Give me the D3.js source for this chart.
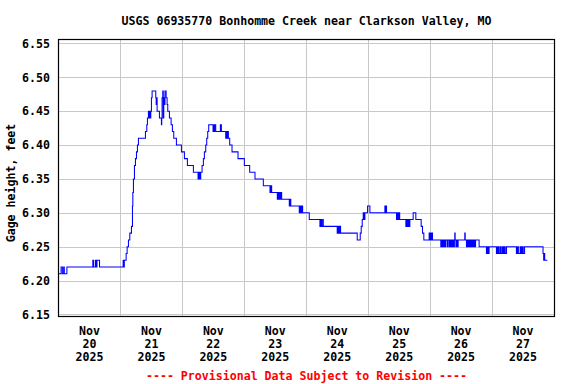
<!DOCTYPE html>
<html>
<head>
<meta charset="utf-8">
<script src="https://cdn.jsdelivr.net/npm/d3@7"></script>
<style>
  html, body { margin: 0; padding: 0; background: #fff; }
  text { font-family: "DejaVu Sans Mono", "Liberation Mono", monospace; font-weight: bold; font-size: 11.6px; }
</style>
</head>
<body>
<svg id="chart" width="576" height="384"></svg>
<script>
// ---- data (hours since 2025-11-20 00:00, gage height in feet) ----
const title = "USGS 06935770 Bonhomme Creek near Clarkson Valley, MO";
const yLabel = "Gage height, feet";
const footer = "---- Provisional Data Subject to Revision ----";
const yTicks = [6.15, 6.20, 6.25, 6.30, 6.35, 6.40, 6.45, 6.50, 6.55];
const dayLabels = ["20", "21", "22", "23", "24", "25", "26", "27"];
const hours = [
  0, 1.0, 1.5, 2.0, 2.25, 3.25,
  13.3, 13.6, 14.3, 14.6, 14.9, 15.9,
  25.05, 25.3, 25.5, 26.21, 26.59, 27.11, 27.63, 28.27, 28.66, 28.8, 29.04, 29.43, 29.82, 30.21, 30.59, 30.98,
  33.69, 34.21, 34.46, 34.85, 35.1, 35.3, 35.5, 35.76, 36.01, 36.27, 37.69, 37.85, 38.0, 38.21, 39.11, 39.88, 40.0,
  40.14, 40.40, 40.6, 40.79, 41.05, 41.25, 41.7, 42.08, 42.34, 42.98, 43.63, 44.14, 44.66, 45.69, 47.63, 48.79,
  49.95, 52.27, 54.08, 54.3, 54.5, 54.7, 54.9, 55.11, 55.63, 56.14, 56.53, 57.05, 57.43, 57.82, 58.21,
  59.88, 60.1, 60.3, 60.5, 60.92, 62.72, 63.11, 64.79, 65.0, 65.3, 65.5, 65.82, 66.34, 67.24, 69.56, 72.01, 74.08,
  76.14, 79.37, 81.95, 82.34, 82.6, 84.79, 85.1, 85.4, 85.7, 86.0, 86.2, 86.47, 89.43, 89.7, 90.0, 90.34,
  93.30, 93.6, 93.9, 94.2, 94.6, 97.17, 101.3, 101.6, 101.9, 102.34, 102.6, 108.0, 108.3, 108.6, 108.9, 109.3,
  115.75, 116.92, 117.3, 117.69, 118.08, 118.34, 118.72, 119.76, 120.66, 126.47, 126.7, 126.9, 127.11,
  130.98, 131.3, 131.6, 131.9, 132.2, 132.53, 134.6, 134.9, 135.2, 135.5, 135.8, 136.14, 137.43, 138.46,
  140.53, 141.05, 141.56, 143.63, 143.9, 144.2, 144.5, 144.7, 144.92,
  148.14, 148.4, 148.6, 148.9, 149.1, 149.4, 149.69, 150.0, 150.6, 150.9, 151.4, 151.6, 152.0, 152.3, 152.6,
  152.9, 153.1, 153.4, 153.56, 153.7, 154.0, 154.3, 154.6, 154.85, 157.43, 157.6, 158.08, 158.4, 158.7, 159.0,
  159.4, 159.7, 160.0, 160.4, 160.7, 161.0, 161.3, 161.6, 162.98, 165.82, 166.2, 166.5, 166.85,
  169.69, 170.1, 170.5, 171.0, 171.4, 171.9, 172.3, 172.7, 173.1, 173.6, 174.21,
  177.43, 177.8, 178.2, 178.9, 179.3, 179.7, 180.1, 180.6, 181.04, 187.75, 188.0, 188.2, 188.4, 189.43
];
const gage = [
  6.21, 6.22, 6.21, 6.22, 6.21, 6.22,
  6.23, 6.22, 6.23, 6.22, 6.23, 6.22,
  6.23, 6.22, 6.23, 6.24, 6.25, 6.26, 6.27, 6.28, 6.31, 6.33, 6.35, 6.37, 6.38, 6.39, 6.40, 6.41,
  6.42, 6.43, 6.44, 6.45, 6.44, 6.45, 6.44, 6.45, 6.47, 6.48, 6.47, 6.46, 6.47, 6.45, 6.44, 6.43, 6.44,
  6.47, 6.48, 6.44, 6.47, 6.46, 6.48, 6.47, 6.46, 6.45, 6.44, 6.43, 6.42, 6.41, 6.40, 6.39, 6.38,
  6.37, 6.36, 6.35, 6.36, 6.35, 6.36, 6.35, 6.36, 6.37, 6.38, 6.39, 6.40, 6.41, 6.42, 6.43,
  6.42, 6.43, 6.42, 6.43, 6.42, 6.43, 6.42, 6.41, 6.42, 6.41, 6.42, 6.41, 6.40, 6.39, 6.38, 6.37, 6.36,
  6.35, 6.34, 6.33, 6.34, 6.33, 6.32, 6.33, 6.32, 6.33, 6.32, 6.33, 6.32, 6.31, 6.32, 6.31, 6.31,
  6.30, 6.31, 6.30, 6.31, 6.30, 6.29, 6.28, 6.29, 6.28, 6.29, 6.28, 6.27, 6.28, 6.27, 6.28, 6.27,
  6.26, 6.27, 6.28, 6.29, 6.30, 6.29, 6.30, 6.31, 6.30, 6.31, 6.30, 6.31, 6.30,
  6.29, 6.30, 6.29, 6.30, 6.29, 6.29, 6.28, 6.29, 6.28, 6.29, 6.28, 6.29, 6.30, 6.29,
  6.28, 6.27, 6.26, 6.27, 6.26, 6.27, 6.26, 6.27, 6.26,
  6.25, 6.26, 6.25, 6.26, 6.25, 6.26, 6.25, 6.26, 6.25, 6.26, 6.25, 6.26, 6.25, 6.26, 6.25,
  6.26, 6.25, 6.26, 6.27, 6.26, 6.25, 6.26, 6.25, 6.26, 6.27, 6.26, 6.25, 6.26, 6.25, 6.26,
  6.25, 6.26, 6.25, 6.26, 6.25, 6.26, 6.25, 6.26, 6.25, 6.24, 6.25, 6.24, 6.25,
  6.24, 6.25, 6.24, 6.25, 6.24, 6.25, 6.24, 6.25, 6.24, 6.25, 6.25,
  6.24, 6.25, 6.24, 6.25, 6.24, 6.25, 6.24, 6.25, 6.25, 6.24, 6.23, 6.24, 6.23, 6.23
];

// ---- layout ----
const svg = d3.select("#chart");
const margin = { left: 58.5, right: 554.5, top: 39.5, bottom: 316.5 };
const start = Date.UTC(2025, 10, 20);
const end = Date.UTC(2025, 10, 28);
const x = d3.scaleUtc().domain([new Date(start), new Date(end)]).range([margin.left, margin.right - 0.5]);
const y = d3.scaleLinear().domain([6.1469, 6.5559]).range([margin.bottom, margin.top]);

const data = hours.map((h, i) => ({ t: new Date(start + h * 3600e3), v: gage[i] }));

// gridlines
const days = d3.utcDay.range(new Date(start), new Date(end + 1));
svg.append("g").selectAll("line").data(days.slice(1, -1)).join("line")
  .attr("x1", d => Math.round(x(d)) + 0.5).attr("x2", d => Math.round(x(d)) + 0.5)
  .attr("y1", margin.top).attr("y2", margin.bottom)
  .attr("stroke", "#c8c8c8").attr("stroke-width", 1);
svg.append("g").selectAll("line").data(yTicks).join("line")
  .attr("x1", margin.left).attr("x2", margin.right)
  .attr("y1", d => Math.round(y(d)) + 0.5).attr("y2", d => Math.round(y(d)) + 0.5)
  .attr("stroke", "#c8c8c8").attr("stroke-width", 1);

// data line
svg.append("path").datum(data)
  .attr("fill", "none").attr("stroke", "#0000ff").attr("stroke-width", 1.05)
  .attr("d", d3.line().x(d => x(d.t)).y(d => y(d.v)).curve(d3.curveStepAfter));

// frame
svg.append("rect")
  .attr("x", margin.left).attr("y", margin.top)
  .attr("width", margin.right - margin.left).attr("height", margin.bottom - margin.top)
  .attr("fill", "none").attr("stroke", "#000").attr("stroke-width", 1.2);

// y tick labels
svg.append("g").selectAll("text").data(yTicks).join("text")
  .attr("x", 50).attr("y", d => y(d)).attr("dy", "0.36em")
  .attr("text-anchor", "end").attr("fill", "#000")
  .text(d => d3.format(".2f")(d));

// x tick labels (at noon of each day)
const xl = svg.append("g").selectAll("g").data(days.slice(0, 8)).join("g")
  .attr("transform", (d, i) => `translate(${x(new Date(d.getTime() + 12 * 3600e3))},0)`);
xl.append("text").attr("y", 334.5).attr("text-anchor", "middle").text("Nov");
xl.append("text").attr("y", 347.5).attr("text-anchor", "middle").text((d, i) => dayLabels[i]);
xl.append("text").attr("y", 361).attr("text-anchor", "middle").text("2025");

// title
svg.append("text").attr("x", (margin.left + margin.right) / 2).attr("y", 24.5)
  .attr("text-anchor", "middle").text(title);

// y label
svg.append("text").attr("transform", "translate(15,183) rotate(-90)")
  .attr("text-anchor", "middle").text(yLabel);

// footer
svg.append("text").attr("x", (margin.left + margin.right) / 2).attr("y", 379.5)
  .attr("text-anchor", "middle").attr("fill", "#ff0000").text(footer);
</script>
</body>
</html>
